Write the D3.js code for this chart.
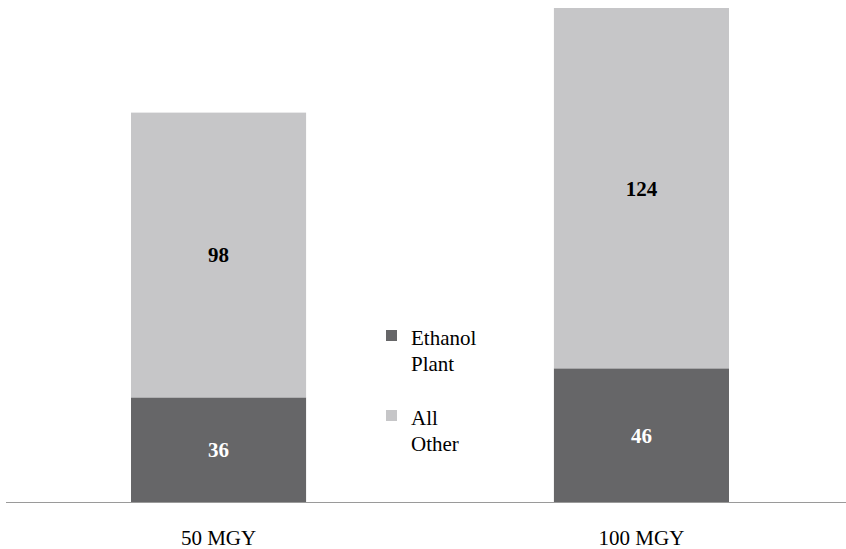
<!DOCTYPE html>
<html>
<head>
<meta charset="utf-8">
<script src="https://cdn.jsdelivr.net/npm/d3@7"></script>
<style>
  body { margin: 0; background: #fff; }
</style>
</head>
<body>
<div id="chart"></div>
<script>
var categories = ['50 MGY', '100 MGY'];
var ethanolPlant = [36, 46];
var allOther = [98, 124];
var seriesNames = [['Ethanol', 'Plant'], ['All', 'Other']];
var colors = ['#666668', '#c6c6c8'];

var width = 846, height = 549;
var baseY = 502;
var FONT = '"Liberation Serif"';

var svg = d3.select('#chart')
    .append('svg')
    .attr('width', width)
    .attr('height', height);

// scales
var x = d3.scaleBand().domain(categories).range([131, 729]).paddingInner(0.586);
var y = d3.scaleLinear().domain([0, 170]).range([baseY, 8]);

var rows = categories.map(function(c, i) {
    return {cat: c, eth: ethanolPlant[i], other: allOther[i]};
});
var stack = d3.stack().keys(['eth', 'other'])(rows);

var layers = svg.selectAll('g.layer')
    .data(stack)
    .enter().append('g')
    .attr('class', 'layer')
    .attr('fill', function(d, i) { return colors[i]; });

layers.selectAll('rect')
    .data(function(d) { return d; })
    .enter().append('rect')
    .attr('x', function(d) { return x(d.data.cat); })
    .attr('y', function(d) { return y(d[1]); })
    .attr('width', x.bandwidth())
    .attr('height', function(d) { return y(d[0]) - y(d[1]); });

// value labels
stack.forEach(function(layer, li) {
    svg.selectAll('text.val' + li)
        .data(layer)
        .enter().append('text')
        .attr('class', 'val' + li)
        .attr('x', function(d) { return x(d.data.cat) + x.bandwidth() / 2; })
        .attr('y', function(d) { return (y(d[0]) + y(d[1])) / 2; })
        .attr('dy', '0.35em')
        .attr('text-anchor', 'middle')
        .style('font-family', FONT)
        .style('font-size', '21px')
        .style('font-weight', 'bold')
        .style('fill', li === 0 ? '#ffffff' : '#000000')
        .text(function(d) { return d[1] - d[0]; });
});

// baseline
svg.append('line')
    .attr('x1', 6).attr('x2', width)
    .attr('y1', baseY + 0.5).attr('y2', baseY + 0.5)
    .attr('stroke', '#9a9a9a')
    .attr('stroke-width', 1.2);

// category axis
var xAxis = d3.axisBottom(x).tickSize(0).tickPadding(28);
var gx = svg.append('g')
    .attr('transform', 'translate(0,' + baseY + ')')
    .call(xAxis);
gx.select('.domain').remove();
gx.selectAll('text')
    .style('font-size', '21px')
    .style('font-family', FONT)
    .style('fill', '#000');

// legend
var legend = svg.selectAll('g.legend')
    .data(seriesNames)
    .enter().append('g')
    .attr('class', 'legend')
    .attr('transform', function(d, i) { return 'translate(386,' + (330 + i * 80) + ')'; });

legend.append('rect')
    .attr('width', 11).attr('height', 11)
    .attr('fill', function(d, i) { return colors[i]; });

legend.append('text')
    .attr('x', 25)
    .attr('y', 15)
    .style('font-family', FONT)
    .style('font-size', '21px')
    .style('fill', '#000')
    .selectAll('tspan')
    .data(function(d) { return d; })
    .enter().append('tspan')
    .attr('x', 25)
    .attr('dy', function(d, i) { return i === 0 ? 0 : 26; })
    .text(function(d) { return d; });
</script>
</body>
</html>
